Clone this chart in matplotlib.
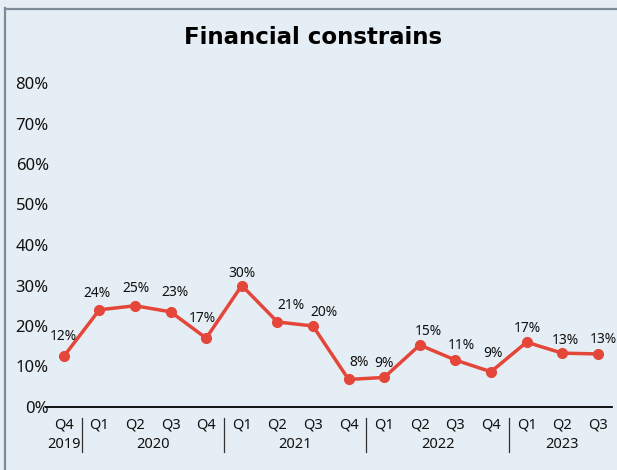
import matplotlib
matplotlib.use("Agg")
import matplotlib.pyplot as plt
from matplotlib.lines import Line2D
from matplotlib.transforms import blended_transform_factory

# ---- data ----
quarters = ["Q4", "Q1", "Q2", "Q3", "Q4", "Q1", "Q2", "Q3", "Q4",
            "Q1", "Q2", "Q3", "Q4", "Q1", "Q2", "Q3"]
years = ["2019", "2020", "2021", "2022", "2023"]
year_centers = [0, 2.5, 6.5, 10.5, 14]
year_separators = [0.5, 4.5, 8.5, 12.5]
values = [12.5, 24, 25, 23.5, 17, 30, 21, 20, 6.8, 7.3, 15.3, 11.6, 8.7, 16, 13.3, 13.1]
value_labels = ["12%", "24%", "25%", "23%", "17%", "30%", "21%", "20%", "8%", "9%",
                "15%", "11%", "9%", "17%", "13%", "13%"]
yticks = [0, 10, 20, 30, 40, 50, 60, 70, 80]
title = "Financial constrains"

# label offsets (pixels) – style only
label_dx = [0, -2, 1, 4, -4, 0, 14, 11, 10, 0, 9, 6, 2, 1, 3, 6]
label_dy = [20, 16, 17, 19, 20, 12, 16, 14, 17, 14, 14, 15, 18, 14, 13, 14]

BG = "#e5eef4"
RED = "#e4463a"
PX = 0.72  # points per pixel at dpi 100

W, H = 617, 470
fig = plt.figure(figsize=(W / 100, H / 100), dpi=100, facecolor=BG)

# frame lines (left and top)
fig.add_artist(Line2D([4.5 / W, 4.5 / W], [0, 1 - 8 / H], color="#7d8a97", lw=1.6))
fig.add_artist(Line2D([4.5 / W, 1], [1 - 8.5 / H, 1 - 8.5 / H], color="#7d8a97", lw=1.6))

ax = fig.add_axes([46 / W, (H - 407) / H, (612 - 46) / W, (407 - 83) / H])
ax.set_facecolor(BG)
x = list(range(len(values)))
ax.plot(x, values, color=RED, lw=2.5, marker="o", markersize=7, clip_on=False, zorder=3)

ax.set_xlim(-0.5, 15.4)
ax.set_ylim(0, 80)
for s in ["top", "right", "left"]:
    ax.spines[s].set_visible(False)
ax.spines["bottom"].set_color("black")
ax.spines["bottom"].set_linewidth(1.3)

ax.set_yticks(yticks)
ax.set_yticklabels([f"{v}%" for v in yticks], family="Noto Sans", fontsize=12, color="#111111")
ax.tick_params(axis="y", length=0, pad=-2)
ax.set_xticks([])

for xi, v, lab, dx, dy in zip(x, values, value_labels, label_dx, label_dy):
    ax.annotate(lab, (xi, v), xytext=(dx * PX, dy * PX), textcoords="offset points",
                ha="center", va="center", family="Noto Sans", fontsize=10, color="#111111")

tr = blended_transform_factory(ax.transData, fig.transFigure)
for xi, q in zip(x, quarters):
    ax.text(xi, 1 - 425 / H, q, transform=tr, ha="center", va="center",
            family="Noto Sans", fontsize=10.5, color="#111111")
for xc, yr in zip(year_centers, years):
    ax.text(xc, 1 - 444 / H, yr, transform=tr, ha="center", va="center",
            family="Noto Sans", fontsize=10.5, color="#111111")
for xs in year_separators:
    fig.add_artist(Line2D([xs, xs], [1 - 418 / H, 1 - 452 / H], color="#333333", lw=0.9,
                          transform=tr))

fig.text(313 / W, 1 - 37 / H, title, ha="center", va="center",
         family="DejaVu Sans", fontweight="bold", fontsize=16.5, color="black")

fig.savefig("out.png", dpi=100, facecolor=BG)
